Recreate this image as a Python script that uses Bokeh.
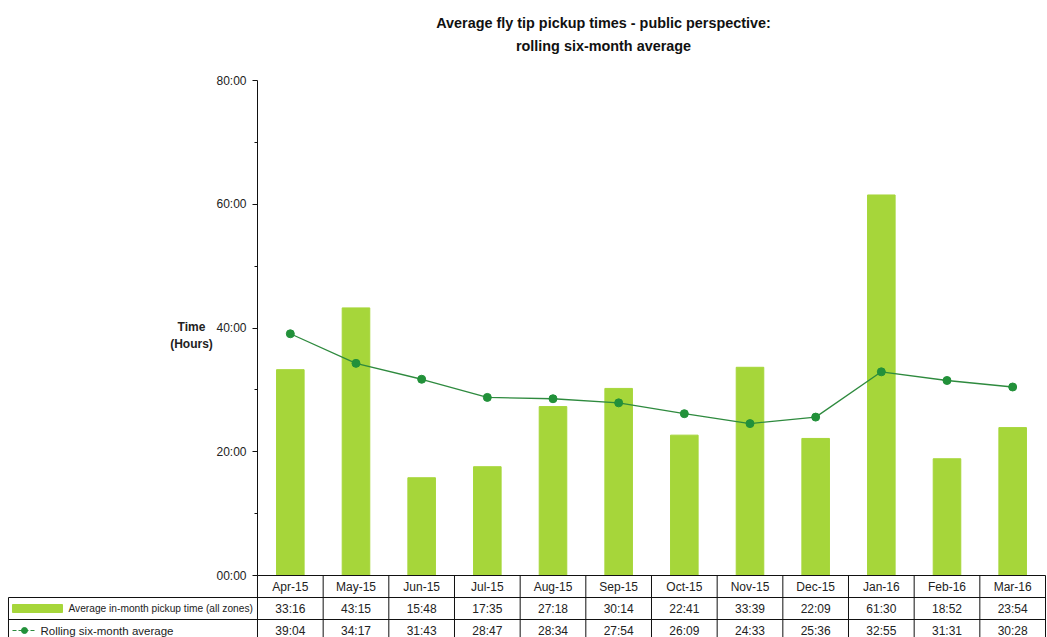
from bokeh.plotting import figure
from bokeh.models import (Range1d, LinearAxis, FixedTicker, Label)
from bokeh.core.properties import value
from bokeh.embed import file_html
from bokeh.resources import INLINE

# ---- data (hh:mm) ----
months = ["Apr-15", "May-15", "Jun-15", "Jul-15", "Aug-15", "Sep-15",
          "Oct-15", "Nov-15", "Dec-15", "Jan-16", "Feb-16", "Mar-16"]
in_month = ["33:16", "43:15", "15:48", "17:35", "27:18", "30:14",
            "22:41", "33:39", "22:09", "61:30", "18:52", "23:54"]
rolling = ["39:04", "34:17", "31:43", "28:47", "28:34", "27:54",
           "26:09", "24:33", "25:36", "32:55", "31:31", "30:28"]
y_ticks = [0, 20, 40, 60, 80]
y_tick_labels = ["00:00", "20:00", "40:00", "60:00", "80:00"]
y_minor = [10, 30, 50, 70]
series_names = ["Average in-month pickup time (all zones)", "Rolling six-month average"]
title_lines = ["Average fly tip pickup times - public perspective:",
               "rolling six-month average"]
axis_title = ["Time", "(Hours)"]


def to_hours(s):
    h, m = s.split(":")
    return int(h) + int(m) / 60.0


bar_vals = [to_hours(s) for s in in_month]
roll_vals = [to_hours(s) for s in rolling]
xs = list(range(len(months)))

# ---- layout geometry ----
W, H = 1047, 637
COL_PX = 65.67          # width of one month column
PX_PER_H = 6.1875       # vertical pixels per hour
ROW_PX = 22             # table row height
LEFT_PAD, RIGHT_PAD = 6, 1
LABEL_COL_PX = 249      # width of the series-name column of the table
BASE_Y = 575            # pixel row of the zero line
row_h = ROW_PX / PX_PER_H
px = 1 / COL_PX         # one pixel in x data units
py = 1 / PX_PER_H       # one pixel in y data units

x_start = -0.5 - (LABEL_COL_PX + 2) / COL_PX
x_end = 11.5 + RIGHT_PAD / COL_PX
y_bottom = -(H - BASE_Y) / PX_PER_H
y_top = BASE_Y / PX_PER_H
table_left = -0.5 - LABEL_COL_PX / COL_PX

BAR_COLOR = "#a6d63a"
LINE_COLOR = "#2e8a3e"
MARK_COLOR = "#22913a"
FONT = "Liberation Sans"

p = figure(width=W, height=H, x_range=Range1d(x_start, x_end),
           y_range=Range1d(y_bottom, y_top), x_axis_type=None, y_axis_type=None,
           toolbar_location=None, output_backend="svg",
           min_border_left=LEFT_PAD, min_border_right=RIGHT_PAD,
           min_border_top=0, min_border_bottom=0)
p.outline_line_color = None
p.xgrid.visible = False
p.ygrid.visible = False
p.background_fill_color = "white"
p.border_fill_color = "white"

# ---- y axis anchored at the left edge of the month columns ----
yaxis = LinearAxis(fixed_location=-0.5, bounds=(0, 80),
                   ticker=FixedTicker(ticks=y_ticks, minor_ticks=y_minor))
yaxis.major_label_overrides = {t: l for t, l in zip(y_ticks, y_tick_labels)}
yaxis.major_label_text_font = FONT
yaxis.major_label_text_font_size = "12px"
yaxis.major_label_text_color = "#222222"
yaxis.major_label_standoff = 6
yaxis.major_tick_in = 0
yaxis.major_tick_out = 5
yaxis.minor_tick_in = 0
yaxis.minor_tick_out = 3
yaxis.axis_line_color = "#111111"
yaxis.major_tick_line_color = "#111111"
yaxis.minor_tick_line_color = "#111111"
p.add_layout(yaxis, "left")

# axis title, two centred lines left of the tick labels
p.text(x=[-0.5 - 66 * px] * 2, y=[40 + 1.5 * py, 40 - 16 * py],
       text=axis_title, text_align="center", text_baseline="middle",
       text_font=value(FONT), text_font_size="12px", text_font_style="bold",
       text_color="#222222")

# ---- bars and rolling line ----
p.vbar(x=xs, top=bar_vals, width=0.42, bottom=0, color=BAR_COLOR)
p.line(xs, roll_vals, line_color=LINE_COLOR, line_width=1.3)
p.scatter(xs, roll_vals, size=8, color=MARK_COLOR)

# ---- data table under the plot ----
grid_color = "#111111"
# horizontal rules
p.segment(x0=[-0.5, table_left, table_left], y0=[0, -row_h, -2 * row_h],
          x1=[11.5, 11.5, 11.5], y1=[0, -row_h, -2 * row_h],
          line_color=grid_color, line_width=1)
# column rules
col_edges = [i - 0.5 for i in range(len(months) + 1)]
p.segment(x0=col_edges, y0=[0] * len(col_edges), x1=col_edges,
          y1=[y_bottom] * len(col_edges), line_color=grid_color, line_width=1)
p.segment(x0=[table_left], y0=[-row_h], x1=[table_left], y1=[y_bottom],
          line_color=grid_color, line_width=1)

txt = dict(text_align="center", text_baseline="middle", text_font=value(FONT),
           text_font_size="12px", text_color="#222222")
p.text(x=xs, y=[-0.5 * row_h] * 12, text=months, **txt)
p.text(x=xs, y=[-1.5 * row_h] * 12, text=in_month, **txt)
p.text(x=xs, y=[-2.5 * row_h] * 12, text=rolling, **txt)

# series keys in the first column
p.rect(x=[table_left + 29 * px], y=[-1.5 * row_h], width=[50], height=[8],
       width_units="screen", height_units="screen", color=BAR_COLOR)
p.line([table_left + 4 * px, table_left + 28 * px], [-2.5 * row_h, -2.5 * row_h],
       line_color=LINE_COLOR, line_width=1.2, line_dash="4 2")
p.scatter([table_left + 16 * px], [-2.5 * row_h], size=6, color=MARK_COLOR)

name_txt = dict(text_align="left", text_baseline="middle", text_font=value(FONT),
                text_color="#222222")
p.text(x=[table_left + 60 * px], y=[-1.5 * row_h], text=[series_names[0]],
       text_font_size="10.2px", **name_txt)
p.text(x=[table_left + 32 * px], y=[-2.5 * row_h], text=[series_names[1]],
       text_font_size="11.5px", **name_txt)

# ---- two-line title ----
for line_text, sy in zip(title_lines, [22, 45]):
    p.add_layout(Label(x=603 - LEFT_PAD, y=H - sy, x_units="screen", y_units="screen",
                       text=line_text, text_align="center", text_baseline="middle",
                       text_font=FONT, text_font_size="14.4px", text_font_style="bold",
                       text_color="#111111"))

open("out.html", "w").write(file_html(p, INLINE))
